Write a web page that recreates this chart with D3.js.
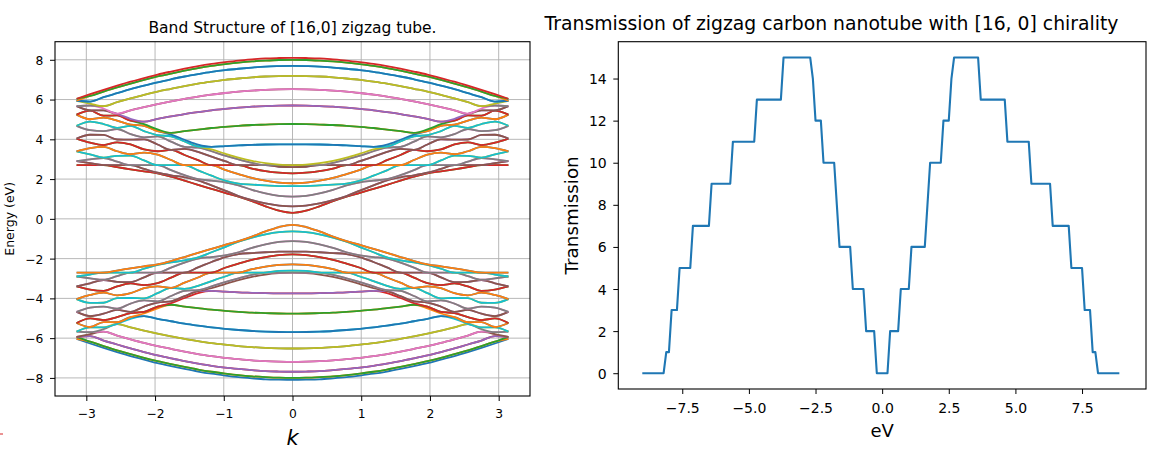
<!DOCTYPE html>
<html><head><meta charset="utf-8">
<script src="https://cdn.jsdelivr.net/npm/d3@7"></script>
<style>
body{margin:0;background:#fff}
svg{display:block}
text{font-family:"DejaVu Sans",sans-serif;fill:#000}
</style>
</head><body>
<svg id="c" width="1153" height="457"></svg>
<script>
// ---------- Band structure data (k from -pi to pi) ----------
const kValues = [-3.1416,-2.9452,-2.7489,-2.5525,-2.3562,-2.1598,-1.9635,-1.7671,-1.5708,-1.3744,-1.1781,-0.9817,-0.7854,-0.5890,-0.3927,-0.1963,0,
0.1963,0.3927,0.5890,0.7854,0.9817,1.1781,1.3744,1.5708,1.7671,1.9635,2.1598,2.3562,2.5525,2.7489,2.9452,3.1416];
// number of coinciding bands for each subband q = 0..16
const bandDegeneracy = [1,2,2,2,2,2,2,2,2,2,2,2,2,2,2,2,1];
const conductionBands = [
[6.04,6.27,6.49,6.70,6.90,7.08,7.26,7.41,7.55,7.68,7.79,7.88,7.96,8.02,8.07,8.09,8.10,8.09,8.07,8.02,7.96,7.88,7.79,7.68,7.55,7.41,7.26,7.08,6.90,6.70,6.49,6.27,6.04],
[5.94,6.18,6.40,6.61,6.80,6.99,7.16,7.31,7.45,7.58,7.69,7.78,7.86,7.92,7.96,7.99,8.00,7.99,7.96,7.92,7.86,7.78,7.69,7.58,7.45,7.31,7.16,6.99,6.80,6.61,6.40,6.18,5.94],
[5.67,5.90,6.12,6.32,6.52,6.70,6.87,7.02,7.16,7.28,7.39,7.48,7.55,7.61,7.66,7.68,7.69,7.68,7.66,7.61,7.55,7.48,7.39,7.28,7.16,7.02,6.87,6.70,6.52,6.32,6.12,5.90,5.67],
[5.24,5.46,5.67,5.87,6.06,6.24,6.40,6.54,6.68,6.80,6.90,6.99,7.06,7.12,7.16,7.18,7.19,7.18,7.16,7.12,7.06,6.99,6.90,6.80,6.68,6.54,6.40,6.24,6.06,5.87,5.67,5.46,5.24],
[4.68,4.89,5.09,5.28,5.46,5.62,5.77,5.91,6.04,6.15,6.25,6.33,6.40,6.45,6.49,6.51,6.52,6.51,6.49,6.45,6.40,6.33,6.25,6.15,6.04,5.91,5.77,5.62,5.46,5.28,5.09,4.89,4.68],
[4.04,4.23,4.41,4.58,4.74,4.89,5.03,5.15,5.27,5.37,5.46,5.53,5.59,5.64,5.67,5.69,5.70,5.69,5.67,5.64,5.59,5.53,5.46,5.37,5.27,5.15,5.03,4.89,4.74,4.58,4.41,4.23,4.04],
[3.40,3.56,3.71,3.85,3.98,4.10,4.21,4.32,4.41,4.49,4.57,4.63,4.68,4.72,4.74,4.76,4.77,4.76,4.74,4.72,4.68,4.63,4.57,4.49,4.41,4.32,4.21,4.10,3.98,3.85,3.71,3.56,3.40],
[2.90,2.99,3.08,3.17,3.25,3.33,3.40,3.47,3.52,3.58,3.62,3.66,3.70,3.72,3.74,3.75,3.75,3.75,3.74,3.72,3.70,3.66,3.62,3.58,3.52,3.47,3.40,3.33,3.25,3.17,3.08,2.99,2.90],
[2.70,2.70,2.70,2.70,2.70,2.70,2.70,2.70,2.70,2.70,2.70,2.70,2.70,2.70,2.70,2.70,2.70,2.70,2.70,2.70,2.70,2.70,2.70,2.70,2.70,2.70,2.70,2.70,2.70,2.70,2.70,2.70,2.70],
[2.90,2.80,2.70,2.60,2.49,2.39,2.29,2.19,2.09,2.00,1.92,1.84,1.77,1.72,1.68,1.65,1.65,1.65,1.68,1.72,1.77,1.84,1.92,2.00,2.09,2.19,2.29,2.39,2.49,2.60,2.70,2.80,2.90],
[3.40,3.24,3.06,2.88,2.70,2.51,2.32,2.12,1.92,1.71,1.51,1.31,1.12,0.94,0.78,0.67,0.63,0.67,0.78,0.94,1.12,1.31,1.51,1.71,1.92,2.12,2.32,2.51,2.70,2.88,3.06,3.24,3.40],
[4.04,3.83,3.62,3.40,3.18,2.94,2.70,2.45,2.20,1.94,1.68,1.42,1.15,0.89,0.63,0.41,0.30,0.41,0.63,0.89,1.15,1.42,1.68,1.94,2.20,2.45,2.70,2.94,3.18,3.40,3.62,3.83,4.04],
[4.68,4.46,4.22,3.99,3.74,3.49,3.23,2.96,2.70,2.44,2.17,1.92,1.68,1.46,1.28,1.16,1.12,1.16,1.28,1.46,1.68,1.92,2.17,2.44,2.70,2.96,3.23,3.49,3.74,3.99,4.22,4.46,4.68],
[5.24,5.01,4.77,4.52,4.26,4.00,3.74,3.47,3.21,2.95,2.70,2.46,2.25,2.06,1.92,1.82,1.79,1.82,1.92,2.06,2.25,2.46,2.70,2.95,3.21,3.47,3.74,4.00,4.26,4.52,4.77,5.01,5.24],
[5.67,5.44,5.19,4.94,4.68,4.41,4.15,3.88,3.62,3.37,3.13,2.90,2.70,2.53,2.40,2.32,2.29,2.32,2.40,2.53,2.70,2.90,3.13,3.37,3.62,3.88,4.15,4.41,4.68,4.94,5.19,5.44,5.67],
[5.94,5.70,5.46,5.20,4.94,4.68,4.41,4.15,3.89,3.64,3.40,3.18,2.99,2.82,2.70,2.62,2.60,2.62,2.70,2.82,2.99,3.18,3.40,3.64,3.89,4.15,4.41,4.68,4.94,5.20,5.46,5.70,5.94],
[6.04,5.80,5.55,5.29,5.03,4.76,4.50,4.24,3.98,3.73,3.49,3.28,3.08,2.92,2.80,2.73,2.70,2.73,2.80,2.92,3.08,3.28,3.49,3.73,3.98,4.24,4.50,4.76,5.03,5.29,5.55,5.80,6.04]
];
const valenceBands = [
[-6.04,-6.27,-6.49,-6.70,-6.90,-7.08,-7.26,-7.41,-7.55,-7.68,-7.79,-7.88,-7.96,-8.02,-8.07,-8.09,-8.10,-8.09,-8.07,-8.02,-7.96,-7.88,-7.79,-7.68,-7.55,-7.41,-7.26,-7.08,-6.90,-6.70,-6.49,-6.27,-6.04],
[-5.94,-6.18,-6.40,-6.61,-6.80,-6.99,-7.16,-7.31,-7.45,-7.58,-7.69,-7.78,-7.86,-7.92,-7.96,-7.99,-8.00,-7.99,-7.96,-7.92,-7.86,-7.78,-7.69,-7.58,-7.45,-7.31,-7.16,-6.99,-6.80,-6.61,-6.40,-6.18,-5.94],
[-5.67,-5.90,-6.12,-6.32,-6.52,-6.70,-6.87,-7.02,-7.16,-7.28,-7.39,-7.48,-7.55,-7.61,-7.66,-7.68,-7.69,-7.68,-7.66,-7.61,-7.55,-7.48,-7.39,-7.28,-7.16,-7.02,-6.87,-6.70,-6.52,-6.32,-6.12,-5.90,-5.67],
[-5.24,-5.46,-5.67,-5.87,-6.06,-6.24,-6.40,-6.54,-6.68,-6.80,-6.90,-6.99,-7.06,-7.12,-7.16,-7.18,-7.19,-7.18,-7.16,-7.12,-7.06,-6.99,-6.90,-6.80,-6.68,-6.54,-6.40,-6.24,-6.06,-5.87,-5.67,-5.46,-5.24],
[-4.68,-4.89,-5.09,-5.28,-5.46,-5.62,-5.77,-5.91,-6.04,-6.15,-6.25,-6.33,-6.40,-6.45,-6.49,-6.51,-6.52,-6.51,-6.49,-6.45,-6.40,-6.33,-6.25,-6.15,-6.04,-5.91,-5.77,-5.62,-5.46,-5.28,-5.09,-4.89,-4.68],
[-4.04,-4.23,-4.41,-4.58,-4.74,-4.89,-5.03,-5.15,-5.27,-5.37,-5.46,-5.53,-5.59,-5.64,-5.67,-5.69,-5.70,-5.69,-5.67,-5.64,-5.59,-5.53,-5.46,-5.37,-5.27,-5.15,-5.03,-4.89,-4.74,-4.58,-4.41,-4.23,-4.04],
[-3.40,-3.56,-3.71,-3.85,-3.98,-4.10,-4.21,-4.32,-4.41,-4.49,-4.57,-4.63,-4.68,-4.72,-4.74,-4.76,-4.77,-4.76,-4.74,-4.72,-4.68,-4.63,-4.57,-4.49,-4.41,-4.32,-4.21,-4.10,-3.98,-3.85,-3.71,-3.56,-3.40],
[-2.90,-2.99,-3.08,-3.17,-3.25,-3.33,-3.40,-3.47,-3.52,-3.58,-3.62,-3.66,-3.70,-3.72,-3.74,-3.75,-3.75,-3.75,-3.74,-3.72,-3.70,-3.66,-3.62,-3.58,-3.52,-3.47,-3.40,-3.33,-3.25,-3.17,-3.08,-2.99,-2.90],
[-2.70,-2.70,-2.70,-2.70,-2.70,-2.70,-2.70,-2.70,-2.70,-2.70,-2.70,-2.70,-2.70,-2.70,-2.70,-2.70,-2.70,-2.70,-2.70,-2.70,-2.70,-2.70,-2.70,-2.70,-2.70,-2.70,-2.70,-2.70,-2.70,-2.70,-2.70,-2.70,-2.70],
[-2.90,-2.80,-2.70,-2.60,-2.49,-2.39,-2.29,-2.19,-2.09,-2.00,-1.92,-1.84,-1.77,-1.72,-1.68,-1.65,-1.65,-1.65,-1.68,-1.72,-1.77,-1.84,-1.92,-2.00,-2.09,-2.19,-2.29,-2.39,-2.49,-2.60,-2.70,-2.80,-2.90],
[-3.40,-3.24,-3.06,-2.88,-2.70,-2.51,-2.32,-2.12,-1.92,-1.71,-1.51,-1.31,-1.12,-0.94,-0.78,-0.67,-0.63,-0.67,-0.78,-0.94,-1.12,-1.31,-1.51,-1.71,-1.92,-2.12,-2.32,-2.51,-2.70,-2.88,-3.06,-3.24,-3.40],
[-4.04,-3.83,-3.62,-3.40,-3.18,-2.94,-2.70,-2.45,-2.20,-1.94,-1.68,-1.42,-1.15,-0.89,-0.63,-0.41,-0.30,-0.41,-0.63,-0.89,-1.15,-1.42,-1.68,-1.94,-2.20,-2.45,-2.70,-2.94,-3.18,-3.40,-3.62,-3.83,-4.04],
[-4.68,-4.46,-4.22,-3.99,-3.74,-3.49,-3.23,-2.96,-2.70,-2.44,-2.17,-1.92,-1.68,-1.46,-1.28,-1.16,-1.12,-1.16,-1.28,-1.46,-1.68,-1.92,-2.17,-2.44,-2.70,-2.96,-3.23,-3.49,-3.74,-3.99,-4.22,-4.46,-4.68],
[-5.24,-5.01,-4.77,-4.52,-4.26,-4.00,-3.74,-3.47,-3.21,-2.95,-2.70,-2.46,-2.25,-2.06,-1.92,-1.82,-1.79,-1.82,-1.92,-2.06,-2.25,-2.46,-2.70,-2.95,-3.21,-3.47,-3.74,-4.00,-4.26,-4.52,-4.77,-5.01,-5.24],
[-5.67,-5.44,-5.19,-4.94,-4.68,-4.41,-4.15,-3.88,-3.62,-3.37,-3.13,-2.90,-2.70,-2.53,-2.40,-2.32,-2.29,-2.32,-2.40,-2.53,-2.70,-2.90,-3.13,-3.37,-3.62,-3.88,-4.15,-4.41,-4.68,-4.94,-5.19,-5.44,-5.67],
[-5.94,-5.70,-5.46,-5.20,-4.94,-4.68,-4.41,-4.15,-3.89,-3.64,-3.40,-3.18,-2.99,-2.82,-2.70,-2.62,-2.60,-2.62,-2.70,-2.82,-2.99,-3.18,-3.40,-3.64,-3.89,-4.15,-4.41,-4.68,-4.94,-5.20,-5.46,-5.70,-5.94],
[-6.04,-5.80,-5.55,-5.29,-5.03,-4.76,-4.50,-4.24,-3.98,-3.73,-3.49,-3.28,-3.08,-2.92,-2.80,-2.73,-2.70,-2.73,-2.80,-2.92,-3.08,-3.28,-3.49,-3.73,-3.98,-4.24,-4.50,-4.76,-5.03,-5.29,-5.55,-5.80,-6.04]
];
const kTicks = [-3,-2,-1,0,1,2,3];
const energyTicks = [-8,-6,-4,-2,0,2,4,6,8];

// ---------- Transmission data ----------
const energyGrid = [-9,-8.9,-8.8,-8.7,-8.6,-8.5,-8.4,-8.3,-8.2,-8.1,-8,-7.9,-7.8,-7.7,-7.6,-7.5,-7.4,-7.3,-7.2,-7.1,
-7,-6.9,-6.8,-6.7,-6.6,-6.5,-6.4,-6.3,-6.2,-6.1,-6,-5.9,-5.8,-5.7,-5.6,-5.5,-5.4,-5.3,-5.2,-5.1,
-5,-4.9,-4.8,-4.7,-4.6,-4.5,-4.4,-4.3,-4.2,-4.1,-4,-3.9,-3.8,-3.7,-3.6,-3.5,-3.4,-3.3,-3.2,-3.1,
-3,-2.9,-2.8,-2.7,-2.6,-2.5,-2.4,-2.3,-2.2,-2.1,-2,-1.9,-1.8,-1.7,-1.6,-1.5,-1.4,-1.3,-1.2,-1.1,
-1,-0.9,-0.8,-0.7,-0.6,-0.5,-0.4,-0.3,-0.2,-0.1,0,0.1,0.2,0.3,0.4,0.5,0.6,0.7,0.8,0.9,
1,1.1,1.2,1.3,1.4,1.5,1.6,1.7,1.8,1.9,2,2.1,2.2,2.3,2.4,2.5,2.6,2.7,2.8,2.9,
3,3.1,3.2,3.3,3.4,3.5,3.6,3.7,3.8,3.9,4,4.1,4.2,4.3,4.4,4.5,4.6,4.7,4.8,4.9,
5,5.1,5.2,5.3,5.4,5.5,5.6,5.7,5.8,5.9,6,6.1,6.2,6.3,6.4,6.5,6.6,6.7,6.8,6.9,
7,7.1,7.2,7.3,7.4,7.5,7.6,7.7,7.8,7.9,8,8.1,8.2,8.3,8.4,8.5,8.6,8.7,8.8,8.9,9];
const transmission = [0,0,0,0,0,0,0,0,0,1,1,3,3,3,5,5,5,5,5,7,
7,7,7,7,7,7,9,9,9,9,9,9,9,9,11,11,11,11,11,11,
11,11,11,13,13,13,13,13,13,13,13,13,13,15,15,15,15,15,15,15,
15,15,15,15,14,12,12,12,10,10,10,10,10,8,6,6,6,6,6,4,
4,4,4,4,2,2,2,2,0,0,0,0,0,2,2,2,2,4,4,4,
4,6,6,6,6,6,6,8,10,10,10,10,10,12,12,12,14,15,15,15,
15,15,15,15,15,15,15,13,13,13,13,13,13,13,13,13,13,11,11,11,
11,11,11,11,11,11,9,9,9,9,9,9,9,9,7,7,7,7,7,
7,7,5,5,5,5,5,3,3,3,1,1,0,0,0,0,0,0,0,0,0];
const eVTicks = [-7.5,-5,-2.5,0,2.5,5,7.5];
const transTicks = [0,2,4,6,8,10,12,14];

const palette = ['#1f77b4','#ff7f0e','#2ca02c','#d62728','#9467bd','#8c564b','#e377c2','#7f7f7f','#bcbd22','#17becf'];
const minus = s => String(s).replace('-', '\u2212');

const svg = d3.select('#c');

// ================= LEFT: band structure =================
const L = {x0:55, x1:530, y0:41.7, y1:396};
const xL = d3.scaleLinear().domain([-3.4558, 3.4558]).range([L.x0, L.x1]);
const yL = d3.scaleLinear().domain([-8.91, 8.91]).range([L.y1, L.y0]);

svg.append('clipPath').attr('id','clipL').append('rect')
  .attr('x',L.x0).attr('y',L.y0).attr('width',L.x1-L.x0).attr('height',L.y1-L.y0);

// grid
const gL = svg.append('g');
gL.selectAll('line.gx').data(kTicks).join('line')
  .attr('x1',d=>xL(d)).attr('x2',d=>xL(d)).attr('y1',L.y0).attr('y2',L.y1)
  .attr('stroke','#b0b0b0').attr('stroke-width',0.9);
gL.selectAll('line.gy').data(energyTicks).join('line')
  .attr('y1',d=>yL(d)).attr('y2',d=>yL(d)).attr('x1',L.x0).attr('x2',L.x1)
  .attr('stroke','#b0b0b0').attr('stroke-width',0.9);

// eigenvalues at each k, sorted (each band repeated by its degeneracy)
const sortedAtK = kValues.map((k,i)=>{
  const v = [];
  conductionBands.forEach((b,q)=>{
    for(let d=0; d<bandDegeneracy[q]; d++){ v.push(b[i]); v.push(valenceBands[q][i]); }
  });
  return v.sort((a,b)=>a-b);
});
const nRank = sortedAtK[0].length;
const rankLines = d3.range(nRank).map(r => kValues.map((k,i)=>({k:k, e:sortedAtK[i][r]})));
const lineL = d3.line().x(d=>xL(d.k)).y(d=>yL(d.e)).curve(d3.curveMonotoneX);
svg.append('g').attr('clip-path','url(#clipL)')
  .selectAll('path').data(rankLines).join('path')
  .attr('d', lineL).attr('fill','none')
  .attr('stroke',(d,r)=>palette[r%10]).attr('stroke-width',1.8)
  .attr('stroke-linejoin','round');

// axes
const axLx = svg.append('g').attr('transform',`translate(0,${L.y1})`)
  .call(d3.axisBottom(xL).tickValues(kTicks).tickSize(5).tickSizeOuter(0).tickFormat(minus));
const axLy = svg.append('g').attr('transform',`translate(${L.x0},0)`)
  .call(d3.axisLeft(yL).tickValues(energyTicks).tickSize(5).tickPadding(6.7).tickSizeOuter(0).tickFormat(minus));
[axLx, axLy].forEach(a=>{
  a.select('.domain').remove();
  a.selectAll('line').attr('stroke','#000').attr('stroke-width',1);
  a.selectAll('text').attr('font-family','DejaVu Sans').attr('font-size',12.3).attr('fill','#000');
});
axLx.selectAll('text').attr('dy',null).attr('y',22);
axLy.selectAll('text').attr('dy','0.36em');

svg.append('rect').attr('x',L.x0).attr('y',L.y0).attr('width',L.x1-L.x0).attr('height',L.y1-L.y0)
  .attr('fill','none').attr('stroke','#000').attr('stroke-width',1.1);

svg.append('text').attr('x',(L.x0+L.x1)/2).attr('y',33.3).attr('text-anchor','middle')
  .attr('font-size',15.5).text('Band Structure of [16,0] zigzag tube.');
svg.append('text').attr('transform',`translate(13.5,${(L.y0+L.y1)/2}) rotate(-90)`)
  .attr('text-anchor','middle').attr('font-size',12.5).text('Energy (eV)');
svg.append('text').attr('x',(L.x0+L.x1)/2).attr('y',445).attr('text-anchor','middle')
  .attr('font-size',21).attr('font-style','italic').text('k');
svg.append('line').attr('x1',0).attr('x2',3).attr('y1',434).attr('y2',434)
  .attr('stroke','#d62728').attr('stroke-width',1);

// ================= RIGHT: transmission =================
const R = {x0:618.3, x1:1146, y0:41.7, y1:389};
const xR = d3.scaleLinear().domain([-9.9, 9.9]).range([R.x0, R.x1]);
const yR = d3.scaleLinear().domain([-0.75, 15.75]).range([R.y1, R.y0]);
const tData = energyGrid.map((e,i)=>({e:e, t:transmission[i]}));
svg.append('path').datum(tData)
  .attr('d', d3.line().x(d=>xR(d.e)).y(d=>yR(d.t)))
  .attr('fill','none').attr('stroke','#1f77b4').attr('stroke-width',2.1)
  .attr('stroke-linejoin','round');

const fmtR = d => minus(d3.format('.1f')(d));
const axRx = svg.append('g').attr('transform',`translate(0,${R.y1})`)
  .call(d3.axisBottom(xR).tickValues(eVTicks).tickSize(5).tickSizeOuter(0).tickFormat(fmtR));
const axRy = svg.append('g').attr('transform',`translate(${R.x0},0)`)
  .call(d3.axisLeft(yR).tickValues(transTicks).tickSize(5).tickPadding(6.6).tickSizeOuter(0));
[axRx, axRy].forEach(a=>{
  a.select('.domain').remove();
  a.selectAll('line').attr('stroke','#000').attr('stroke-width',1);
  a.selectAll('text').attr('font-family','DejaVu Sans').attr('font-size',14).attr('fill','#000');
});
axRx.selectAll('text').attr('dy',null).attr('y',23.5);
axRy.selectAll('text').attr('dy','0.36em');

svg.append('rect').attr('x',R.x0).attr('y',R.y0).attr('width',R.x1-R.x0).attr('height',R.y1-R.y0)
  .attr('fill','none').attr('stroke','#000').attr('stroke-width',1.1);

svg.append('text').attr('x',831.5).attr('y',30).attr('text-anchor','middle')
  .attr('font-size',18.8).text('Transmission of zigzag carbon nanotube with [16, 0] chirality');
svg.append('text').attr('transform',`translate(578,${(R.y0+R.y1)/2}) rotate(-90)`)
  .attr('text-anchor','middle').attr('font-size',18.3).text('Transmission');
svg.append('text').attr('x',(R.x0+R.x1)/2).attr('y',436.5).attr('text-anchor','middle')
  .attr('font-size',18).text('eV');
</script>
</body></html>
